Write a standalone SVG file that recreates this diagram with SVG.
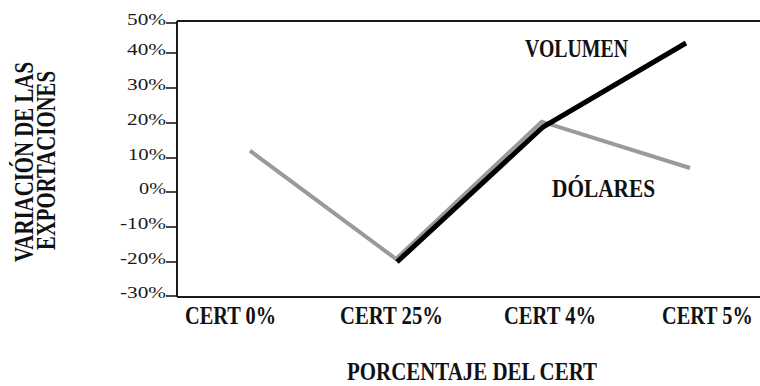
<svg xmlns="http://www.w3.org/2000/svg" width="760" height="386" viewBox="0 0 760 386">
  <style>
    .tick { font-family: "Liberation Serif", "Times New Roman", serif; font-size: 17.5px; fill: #1a1a1a; text-anchor: end; }
    .bold { font-family: "Liberation Serif", "Times New Roman", serif; font-weight: bold; fill: #111; }
    .axis { stroke: #1a1a1a; stroke-width: 2; fill: none; }
    .tk { stroke: #1a1a1a; stroke-width: 1.6; }
    .dolares { stroke: #9a9a9a; stroke-width: 4; fill: none; stroke-linejoin: miter; }
    .volumen { stroke: #000; stroke-width: 5; fill: none; stroke-linejoin: miter; }
  </style>
  <rect width="760" height="386" fill="#fff"/>

  <g id="frame">
    <path class="axis" d="M177 21 H760 M177 21 V297 M177 297 H760"/>
    <g id="ticks">
      <line class="tk" x1="166" y1="23" x2="177" y2="23"/>
      <line class="tk" x1="166" y1="53" x2="177" y2="53"/>
      <line class="tk" x1="166" y1="88" x2="177" y2="88"/>
      <line class="tk" x1="166" y1="123" x2="177" y2="123"/>
      <line class="tk" x1="166" y1="158" x2="177" y2="158"/>
      <line class="tk" x1="166" y1="192" x2="177" y2="192"/>
      <line class="tk" x1="166" y1="227" x2="177" y2="227"/>
      <line class="tk" x1="166" y1="262" x2="177" y2="262"/>
      <line class="tk" x1="166" y1="296" x2="177" y2="296"/>
    </g>
    <g id="tick-labels">
      <text class="tick" x="166" y="25" textLength="39" lengthAdjust="spacingAndGlyphs">50%</text>
      <text class="tick" x="166" y="55" textLength="39" lengthAdjust="spacingAndGlyphs">40%</text>
      <text class="tick" x="166" y="90" textLength="39" lengthAdjust="spacingAndGlyphs">30%</text>
      <text class="tick" x="166" y="125" textLength="39" lengthAdjust="spacingAndGlyphs">20%</text>
      <text class="tick" x="166" y="160" textLength="38" lengthAdjust="spacingAndGlyphs">10%</text>
      <text class="tick" x="166" y="194" textLength="27" lengthAdjust="spacingAndGlyphs">0%</text>
      <text class="tick" x="166" y="229" textLength="46" lengthAdjust="spacingAndGlyphs">-10%</text>
      <text class="tick" x="166" y="264" textLength="46" lengthAdjust="spacingAndGlyphs">-20%</text>
      <text class="tick" x="166" y="298" textLength="46" lengthAdjust="spacingAndGlyphs">-30%</text>
    </g>
  </g>

  <g id="y-title">
    <text class="bold" font-size="27" transform="translate(33 262) rotate(-90)" textLength="200" lengthAdjust="spacingAndGlyphs">VARIACIÓN DE LAS</text>
    <text class="bold" font-size="27" transform="translate(55 250) rotate(-90)" textLength="179" lengthAdjust="spacingAndGlyphs">EXPORTACIONES</text>
  </g>

  <g id="categories">
    <text class="bold" font-size="26" x="185" y="324" textLength="91" lengthAdjust="spacingAndGlyphs">CERT 0%</text>
    <text class="bold" font-size="26" x="340" y="324" textLength="103" lengthAdjust="spacingAndGlyphs">CERT 25%</text>
    <text class="bold" font-size="26" x="504" y="324" textLength="92" lengthAdjust="spacingAndGlyphs">CERT 4%</text>
    <text class="bold" font-size="26" transform="translate(662 324) scale(0.78 1)">CERT 5%</text>
  </g>

  <g id="x-title">
    <text class="bold" font-size="25" x="347" y="380" textLength="250" lengthAdjust="spacingAndGlyphs">PORCENTAJE DEL CERT</text>
  </g>

  <g id="series">
    <polyline id="dolares-line" class="dolares" points="250,150.7 396,259 541.7,121.7 690,168"/>
    <polyline id="volumen-line" class="volumen" points="397,262 543,127 686,43"/>
  </g>

  <g id="series-labels">
    <text id="volumen-label" class="bold" font-size="26" x="525" y="57" textLength="103" lengthAdjust="spacingAndGlyphs">VOLUMEN</text>
    <text id="dolares-label" class="bold" font-size="26" x="552" y="197" textLength="103" lengthAdjust="spacingAndGlyphs">DÓLARES</text>
  </g>
</svg>
